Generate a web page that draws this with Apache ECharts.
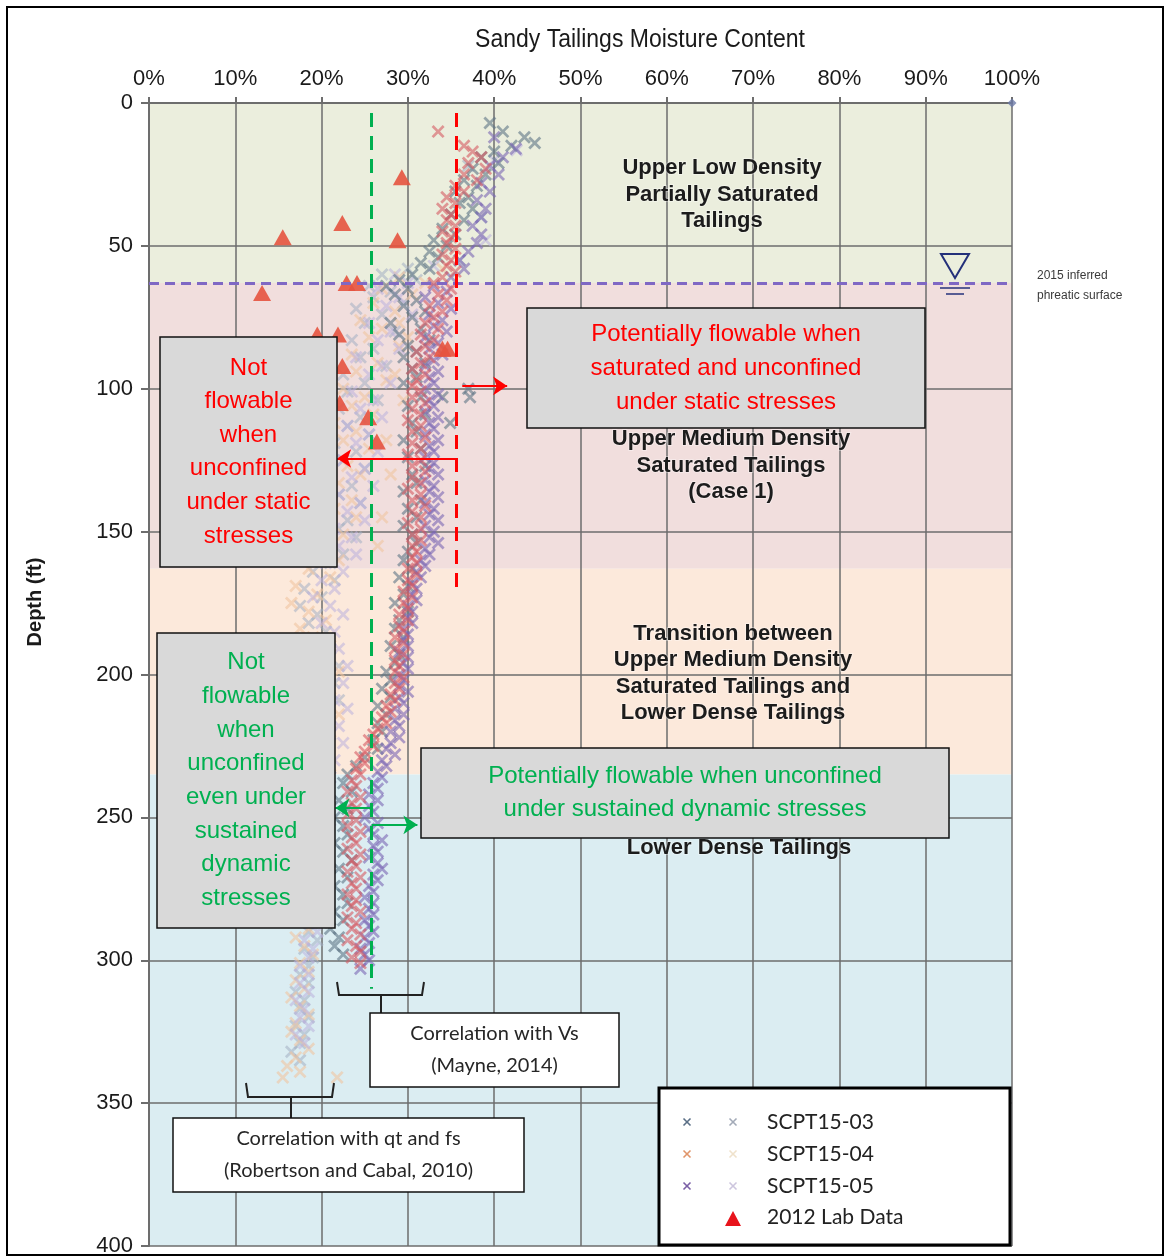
<!DOCTYPE html>
<html>
<head>
<meta charset="utf-8">
<script src="https://cdn.jsdelivr.net/npm/echarts@6/dist/echarts.min.js"></script>
<style>
  html, body { margin: 0; padding: 0; background: #fff; }
  #chart { width: 1166px; height: 1258px; }
</style>
</head>
<body>
<div id="chart"></div>
<script>
// [moisture %, depth ft]
const scpt03Vs = [[39.5,7],[41,10],[43.5,12],[44.7,14],[42,15],[40,17],[38.5,19],[40.5,21],[37.5,23],[39,25],[36.5,27],[38,29],[35.5,31],[37,33],[36,35],[37.5,37],[35,39],[36.5,41],[34,44],[35.5,46],[33,48],[34.5,50],[32.5,52],[33.5,54],[31.5,56],[32.5,58],[30.5,60],[29,62],[27.5,64],[30,65],[28.5,67],[31,69],[29.5,71],[32,73],[30.5,75],[28,77],[31.5,79],[29,81],[32.5,83],[30,85],[31,87],[29.5,89],[32,91],[30.5,93],[31,96],[29.5,98],[37,100],[34,103],[37.2,103],[34.9,112],[31.5,103],[30,106],[32,109],[30.5,112],[31,115],[29.5,118],[31.5,121],[30,124],[32,127],[30.5,130],[31,133],[29.5,136],[31.5,139],[30,142],[31,145],[29.5,148],[30.5,151],[31,154],[30,157],[29.5,160],[30.5,163],[29,166],[30,169],[29.5,172],[28.5,175],[30,178],[29,181],[28.5,184],[29.5,187],[28,190],[29,193],[28.5,196],[27.5,199],[28,202],[27,205],[28,208],[26.5,211],[27.5,214],[26.5,217],[27,220],[26,223],[26.5,226],[25,229],[24,232],[23,235],[22.5,238],[23.5,241],[22,244],[23,247],[21.5,250],[22.5,253],[23,256],[21.5,259],[22.5,262],[23.5,265],[22,268],[23,271],[21.5,274],[22.5,277],[23,280],[21.5,283],[22.5,286],[21,289],[22,292],[21.5,295],[22.5,298]];
const scpt04Vs = [[33.5,10],[36.5,15],[37.5,17],[38.5,19],[37,21],[39,23],[36.5,25],[38,27],[35.5,29],[36.5,31],[34.5,33],[35.5,35],[34,37],[35,39],[34.5,41],[35.5,43],[34,45],[35,47],[34.5,49],[35.5,51],[34,53],[35,55],[34.5,57],[35.5,59],[34,61],[33,63],[35,65],[33.5,67],[34.5,69],[32.5,71],[34,73],[33,75],[32,77],[33.5,79],[31.5,81],[33,83],[32,85],[31,87],[32.5,89],[31.5,91],[30.5,93],[32,95],[31,97],[30.5,99],[31.5,101],[30.5,103],[32,105],[30.5,107],[31.5,109],[30,111],[31.5,113],[30.5,115],[32,117],[30.5,119],[31.5,121],[30,123],[31.5,125],[30.5,127],[32,129],[30.5,131],[31.5,133],[30,135],[31.5,137],[30.5,139],[32,141],[30.5,143],[31.5,145],[30,147],[31.5,149],[30.5,151],[31.5,153],[30.5,155],[31,157],[30.5,159],[31,161],[30,163],[31,165],[30,167],[30.5,169],[29.5,171],[30.5,173],[29.5,175],[30,177],[29,179],[30,181],[29,183],[29.5,185],[28.5,187],[29.5,189],[28.5,191],[29.5,193],[28.5,195],[29,197],[28.5,199],[29.5,201],[28.5,203],[29,205],[28,207],[28.5,209],[27.5,211],[28,213],[27,215],[27.5,217],[26.5,219],[26,221],[25.5,223],[26,225],[25,227],[24.5,229],[25,231],[24,233],[24.5,235],[23.5,237],[24,239],[23,241],[24.5,243],[23.5,245],[24,247],[23,249],[24,251],[23,253],[24.5,255],[23.5,257],[24,259],[23,261],[24.5,263],[23.5,265],[24,267],[23,269],[24.5,271],[23.5,273],[24,275],[23,277],[24,279],[23.5,281],[24.5,283],[23,285],[24,287],[23.5,289],[24.5,291],[23,293],[24,295],[24.5,297],[23.5,299],[24.5,301]];
const scpt05Vs = [[40,12],[42.5,16],[41,19],[39.5,22],[40.5,25],[38.5,28],[39.5,31],[38,34],[39,37],[38.5,40],[37.5,43],[38.5,46],[38,49],[37,52],[36,55],[36.5,58],[35,61],[33,64],[34.5,66],[32,68],[33.5,70],[35,72],[32.5,74],[34,76],[33,78],[34.5,80],[32,82],[33.5,84],[32.5,86],[34,88],[33,90],[32,92],[33.5,94],[32.5,96],[33,98],[32,100],[33.5,102],[32.5,104],[33,106],[32,108],[33.5,110],[32.5,112],[33,114],[32,116],[33.5,118],[32.5,120],[33,122],[32,124],[33,126],[32.5,128],[33.5,130],[32,132],[33,134],[32.5,136],[33.5,138],[32,140],[33,142],[32.5,144],[33.5,146],[32,148],[33,150],[32.5,152],[33.5,154],[32,156],[32.5,158],[31.5,160],[32,162],[31,164],[31.5,166],[30.5,168],[31,170],[30.5,172],[31,174],[30,176],[30.5,178],[30,180],[30.5,182],[29.5,184],[30,186],[29.5,188],[30,190],[29,192],[30,194],[29.5,196],[30,198],[29,200],[29.5,202],[29,204],[30,206],[29,208],[29.5,210],[28.5,212],[29.5,214],[28.5,216],[29,218],[28,220],[29,222],[28,224],[27.5,226],[28.5,228],[27,230],[27.5,232],[26.5,234],[27,236],[26,238],[26.5,240],[25.5,242],[26.5,244],[25.5,246],[26,248],[25,250],[26.5,252],[25.5,254],[26,256],[27,258],[26,260],[26.5,262],[25.5,264],[26.5,266],[27,268],[26,270],[26.5,272],[25.5,274],[26,276],[25,278],[26,280],[25.5,282],[26,284],[25,286],[25.5,288],[26,290],[25,292],[25.5,294],[24.5,296],[25,298],[25.5,300],[24.5,303]];
const scpt03Qt = [[37,22],[38.5,40],[36,55],[30,58],[27,60],[31,62],[25.5,64],[28,66],[26,68],[29.5,70],[24,72],[27,74],[25,77],[28.5,80],[23.5,83],[26,86],[24.5,89],[27.5,92],[22.5,95],[25,98],[23,101],[26.5,104],[22,107],[24.5,110],[23,113],[25.5,116],[21.5,119],[24,122],[22.5,125],[25,128],[21,131],[23.5,134],[22,137],[24.5,140],[21,143],[23,146],[22,149],[24,152],[20.5,155],[22.5,158],[21,161],[19,164],[21.5,167],[18,170],[20,173],[17.5,176],[19.5,179],[18.5,182],[20.5,185],[19,188],[21,191],[19.5,194],[22,197],[20,200],[21.5,203],[19.5,206],[22,209],[20,212],[21,215],[19,218],[20.5,221],[19.5,224],[18.5,227],[20,230],[19,233],[21,236],[19.5,239],[20.5,242],[19,245],[20,248],[18.5,251],[19.5,254],[20.5,257],[19,260],[20,263],[18.5,266],[19.5,269],[20.5,272],[19,275],[20,278],[18.5,281],[19.5,284],[20,287],[18.5,290],[19.5,293],[18,296],[19,299],[18.5,302],[17.5,305],[18.5,308],[17,311],[18,314],[17.5,317],[18.5,320],[17,323],[18,326],[17.5,329],[16.5,332],[17.5,335]];
const scpt04Qt = [[34,58],[29,61],[32,63],[27,65],[30.5,67],[26,70],[28.5,73],[24.5,76],[29,77],[27,79],[25.5,82],[30,82],[29,85],[23.5,88],[26.5,91],[24,94],[28.5,95],[27.5,97],[22.5,100],[25,103],[29.5,104],[23.5,106],[26,109],[21.5,112],[24,115],[22.5,118],[27.5,118],[25.5,121],[21,124],[23,127],[24.5,130],[28,130],[22,133],[20.5,136],[23.5,139],[21.5,142],[24,145],[27,145],[20,148],[22.5,151],[21,154],[26.5,155],[19.5,157],[22,160],[18.5,163],[21,166],[17,169],[19.5,172],[16.5,175],[18.5,178],[20.5,181],[17.5,184],[19,187],[21,190],[18,193],[20,196],[22,199],[19,202],[21,205],[18.5,208],[20.5,211],[22,214],[19.5,217],[21,220],[18,223],[20,226],[19,229],[21,232],[18.5,235],[20,238],[19,241],[17.5,244],[19.5,247],[18.5,250],[20,253],[17.5,256],[19,259],[18,262],[19.5,265],[17.5,268],[18.5,271],[19.5,274],[17.5,277],[18.5,280],[19,283],[17.5,286],[18.5,289],[17,292],[18,295],[19,298],[17.5,301],[18.5,304],[17,307],[18,310],[16.5,313],[17.5,316],[18.5,319],[17,322],[16.5,325],[17.5,328],[18.5,331],[17,334],[16,337],[17.5,339],[15.5,341],[21.8,341]];
const scpt05Qt = [[40,20],[42.6,16.5],[39,48],[33,57],[28.5,60],[30,63],[26.5,65],[29,68],[27.5,71],[30.5,74],[25.5,77],[28,80],[26.5,83],[29,86],[24,89],[27,92],[25.5,95],[28,98],[23.5,101],[26,104],[24.5,107],[27,110],[23,113],[25.5,116],[24,119],[26.5,122],[22.5,125],[25,128],[23.5,131],[26,134],[22,137],[24.5,140],[23,143],[25,146],[21.5,149],[23.5,152],[22,155],[24,158],[20.5,161],[22.5,164],[20,167],[21.5,170],[19,173],[21,176],[22.5,179],[20,182],[21.5,185],[19.5,188],[22,191],[20.5,194],[23,197],[21,200],[22.5,203],[20.5,206],[21.5,209],[23,212],[20,215],[22,218],[21,221],[22.5,224],[20.5,227],[21.5,230],[20,233],[21,236],[19.5,239],[20.5,242],[19,245],[20,248],[21,251],[19.5,254],[20.5,257],[19,260],[20,263],[19.5,266],[20.5,269],[19,272],[20,275],[19.5,278],[18.5,281],[19.5,284],[18.5,287],[19.5,290],[18,293],[19,296],[18.5,299],[17.5,302],[18.5,305],[17.5,308],[18.5,311],[17,314],[18,317],[17.5,320],[18.5,323],[17,326],[18,329]];
const labData = [[29.3,26],[22.4,42],[15.5,47],[28.8,48],[13.1,66.5],[22.9,63],[24.1,63],[19.5,81],[21.9,81],[22.4,92],[22.1,105],[25.4,110],[26.4,118.5],[34,86],[34.6,86]];
const anchorPoint = [[100, 0]];

const zoneEdges = [0, 63, 163, 235, 400];
const phreaticDepth = 63;
const vsLimit = 25.8;       // green
const staticLimit = 35.6;   // red

const zoneColors = ['#ebeedd', '#f1dedd', '#fce9db', '#dbedf2'];
const arial = "'Liberation Sans', Arial, sans-serif";
const crossPath = 'path://M0,1.5L1.5,0L5,3.5L8.5,0L10,1.5L6.5,5L10,8.5L8.5,10L5,6.5L1.5,10L0,8.5L3.5,5Z';

const cross = (name, data, color, opacity) => ({
  name, type: 'scatter', data, silent: true,
  symbol: crossPath, symbolSize: 13,
  itemStyle: { color, opacity }
});

const arrow = (y, x1, x2, color) => [
  { coord: [x1, y], lineStyle: { color, type: 'solid', width: 2 }, symbol: 'none' },
  { coord: [x2, y], symbol: 'arrow' }
];

const textBox = (x, y, w, h, lines, color, font, lineH, fill) => [
  { type: 'rect', z: 100, shape: { x, y, width: w, height: h },
    style: { fill, stroke: '#111', lineWidth: 1.5 } },
  { type: 'text', z: 101, x: x + w / 2, y: y + h / 2,
    style: { text: lines.join('\n'), fill: color, font, lineHeight: lineH,
      align: 'center', verticalAlign: 'middle' } }
];

const zoneLabel = (cx, cy, lines) => ({
  type: 'text', z: 50, x: cx, y: cy,
  style: { text: lines.join('\n'), fill: '#1c1c1c', font: 'bold 22px ' + arial, lineHeight: 26.5,
    align: 'center', verticalAlign: 'middle', stroke: 'rgba(255,255,255,0.35)', lineWidth: 2 }
});

// small x for the legend, drawn from two lines
const legendCross = (x, y, c) => [
  { type: 'line', z: 101, shape: { x1: x - 3.5, y1: y - 3.5, x2: x + 3.5, y2: y + 3.5 }, style: { stroke: c, lineWidth: 1.6 } },
  { type: 'line', z: 101, shape: { x1: x - 3.5, y1: y + 3.5, x2: x + 3.5, y2: y - 3.5 }, style: { stroke: c, lineWidth: 1.6 } }
];

const legendRows = [
  { label: 'SCPT15-03', c1: '#5b6f86', c2: '#a3abb8' },
  { label: 'SCPT15-04', c1: '#e0956a', c2: '#efe2cc' },
  { label: 'SCPT15-05', c1: '#7a5fa6', c2: '#cdc6de' }
];
const legendItems = [
  { type: 'rect', z: 100, shape: { x: 659, y: 1088, width: 351, height: 157 },
    style: { fill: '#fff', stroke: '#000', lineWidth: 3 } }
];
legendRows.forEach((r, i) => {
  const y = 1122 + i * 32;
  legendItems.push(...legendCross(687, y, r.c1), ...legendCross(733, y, r.c2));
  legendItems.push({ type: 'text', z: 101, x: 767, y,
    style: { text: r.label, fill: '#222', font: '21px Lato, sans-serif', verticalAlign: 'middle' } });
});
legendItems.push(
  { type: 'polygon', z: 101, shape: { points: [[725, 1226], [741, 1226], [733, 1211]] }, style: { fill: '#e8141c' } },
  { type: 'text', z: 101, x: 767, y: 1217,
    style: { text: '2012 Lab Data', fill: '#222', font: '21px Lato, sans-serif', verticalAlign: 'middle' } }
);

const chart = echarts.init(document.getElementById('chart'));
chart.setOption({
  animation: false,
  backgroundColor: '#fff',
  grid: { left: 149, top: 103, right: 154, bottom: 12 },
  xAxis: {
    type: 'value', position: 'top', min: 0, max: 100, interval: 10, z: 1,
    axisLine: { show: true, lineStyle: { color: '#6d6d6d', width: 2 } },
    axisTick: { show: true, length: 6, lineStyle: { color: '#6d6d6d', width: 2 } },
    axisLabel: { formatter: '{value}%', color: '#1a1a1a', fontSize: 22, fontFamily: arial, margin: 13 },
    splitLine: { show: true, lineStyle: { color: '#6d6d6d', width: 1.5 } }
  },
  yAxis: {
    type: 'value', inverse: true, min: 0, max: 400, interval: 50, z: 1,
    axisLine: { show: true, lineStyle: { color: '#6d6d6d', width: 2 } },
    axisTick: { show: true, length: 8, lineStyle: { color: '#6d6d6d', width: 2 } },
    axisLabel: { color: '#1a1a1a', fontSize: 22, fontFamily: arial, margin: 16 },
    splitLine: { show: true, lineStyle: { color: '#6d6d6d', width: 1.5 } }
  },
  series: [
    {
      name: 'zones', type: 'scatter', data: anchorPoint, clip: false, silent: true,
      symbol: 'diamond', symbolSize: 9, itemStyle: { color: '#6d7ba8' },
      markArea: {
        silent: true, z: -1,
        data: zoneColors.map((c, i) => [
          { yAxis: zoneEdges[i], itemStyle: { color: c, opacity: 1 } },
          { yAxis: zoneEdges[i + 1] }
        ])
      },
      markLine: {
        silent: true, z: 20, symbolSize: 14,
        label: { show: false },
        data: [
          [{ coord: [0, phreaticDepth], symbol: 'none', lineStyle: { color: '#7f68c4', width: 3, type: [10, 6] } },
           { coord: [100, phreaticDepth], symbol: 'none' }],
          [{ coord: [vsLimit, 3.5], symbol: 'none', lineStyle: { color: '#00b050', width: 3, type: [14, 9] } },
           { coord: [vsLimit, 310], symbol: 'none' }],
          [{ coord: [staticLimit, 3.5], symbol: 'none', lineStyle: { color: '#ff0000', width: 3, type: [14, 9] } },
           { coord: [staticLimit, 172], symbol: 'none' }],
          arrow(124.4, staticLimit, 21.8, '#ff0000'),
          arrow(99, 36.3, 41.5, '#ff0000'),
          arrow(246.7, vsLimit, 21.6, '#00b050'),
          arrow(252.6, vsLimit, 31.1, '#00b050')
        ]
      }
    },
    cross('SCPT15-03 qt', scpt03Qt, '#a3afc2', 0.55),
    cross('SCPT15-04 qt', scpt04Qt, '#f0c4a0', 0.6),
    cross('SCPT15-05 qt', scpt05Qt, '#b9b0dc', 0.55),
    cross('SCPT15-03 Vs', scpt03Vs, '#5d7486', 0.6),
    cross('SCPT15-05 Vs', scpt05Vs, '#7a66b4', 0.6),
    cross('SCPT15-04 Vs', scpt04Vs, '#d65a62', 0.6),
    {
      name: '2012 Lab Data', type: 'scatter', data: labData, silent: true,
      symbol: 'triangle', symbolSize: [18, 16],
      itemStyle: { color: '#e5533f', opacity: 0.9 }
    }
  ],
  graphic: [
    { type: 'rect', z: 0, shape: { x: 7, y: 7, width: 1156, height: 1248 },
      style: { fill: 'none', stroke: '#000', lineWidth: 2 } },
    { type: 'text', x: 640, y: 40, scaleX: 0.92,
      style: { text: 'Sandy Tailings Moisture Content', fill: '#1a1a1a', font: '25px ' + arial,
        align: 'center', verticalAlign: 'middle' } },
    { type: 'text', x: 35, y: 602, rotation: Math.PI / 2,
      style: { text: 'Depth (ft)', fill: '#1a1a1a', font: 'bold 20px ' + arial,
        align: 'center', verticalAlign: 'middle' } },
    // water table symbol
    { type: 'polygon', z: 60, shape: { points: [[941, 254], [969, 254], [955, 278]] },
      style: { fill: 'none', stroke: '#24307a', lineWidth: 2 } },
    { type: 'line', z: 60, shape: { x1: 940, y1: 288, x2: 970, y2: 288 }, style: { stroke: '#24307a', lineWidth: 1.5 } },
    { type: 'line', z: 60, shape: { x1: 946, y1: 294, x2: 964, y2: 294 }, style: { stroke: '#24307a', lineWidth: 1.5 } },
    { type: 'text', x: 1037, y: 286,
      style: { text: '2015 inferred\nphreatic surface', fill: '#3a3a3a', font: '12px ' + arial,
        lineHeight: 20, verticalAlign: 'middle' } },
    zoneLabel(722, 194.5, ['Upper Low Density', 'Partially Saturated', 'Tailings']),
    zoneLabel(731, 465.5, ['Upper Medium Density', 'Saturated Tailings', '(Case 1)']),
    zoneLabel(733, 673.5, ['Transition between', 'Upper Medium Density', 'Saturated Tailings and', 'Lower Dense Tailings']),
    zoneLabel(739, 848, ['Lower Dense Tailings']),
    ...textBox(160, 337, 177, 230, ['Not', 'flowable', 'when', 'unconfined', 'under static', 'stresses'],
      '#ff0000', '24px ' + arial, 33.6, '#d9d9d9'),
    ...textBox(527, 308, 398, 120, ['Potentially flowable when', 'saturated and unconfined', 'under static stresses'],
      '#ff0000', '24px ' + arial, 34, '#d9d9d9'),
    ...textBox(157, 633, 178, 295, ['Not', 'flowable', 'when', 'unconfined', 'even under', 'sustained', 'dynamic', 'stresses'],
      '#00b050', '24px ' + arial, 33.7, '#d9d9d9'),
    ...textBox(421, 748, 528, 90, ['Potentially flowable when unconfined', 'under sustained dynamic stresses'],
      '#00b050', '24px ' + arial, 33, '#d9d9d9'),
    // brackets
    { type: 'polyline', z: 60, shape: { points: [[337, 982], [339, 995], [422, 995], [424, 982]] },
      style: { stroke: '#222', lineWidth: 2, fill: 'none' } },
    { type: 'line', z: 60, shape: { x1: 381, y1: 995, x2: 381, y2: 1013 }, style: { stroke: '#222', lineWidth: 2 } },
    { type: 'polyline', z: 60, shape: { points: [[246, 1083], [248, 1097], [332, 1097], [334, 1083]] },
      style: { stroke: '#222', lineWidth: 2, fill: 'none' } },
    { type: 'line', z: 60, shape: { x1: 291, y1: 1097, x2: 291, y2: 1118 }, style: { stroke: '#222', lineWidth: 2 } },
    ...textBox(370, 1013, 249, 74, ['Correlation with Vs', '(Mayne, 2014)'],
      '#262626', '20px Lato, sans-serif', 32, '#fff'),
    ...textBox(173, 1118, 351, 74, ['Correlation with qt and fs', '(Robertson and Cabal, 2010)'],
      '#262626', '20px Lato, sans-serif', 32, '#fff'),
    ...legendItems
  ]
});
</script>
</body>
</html>
